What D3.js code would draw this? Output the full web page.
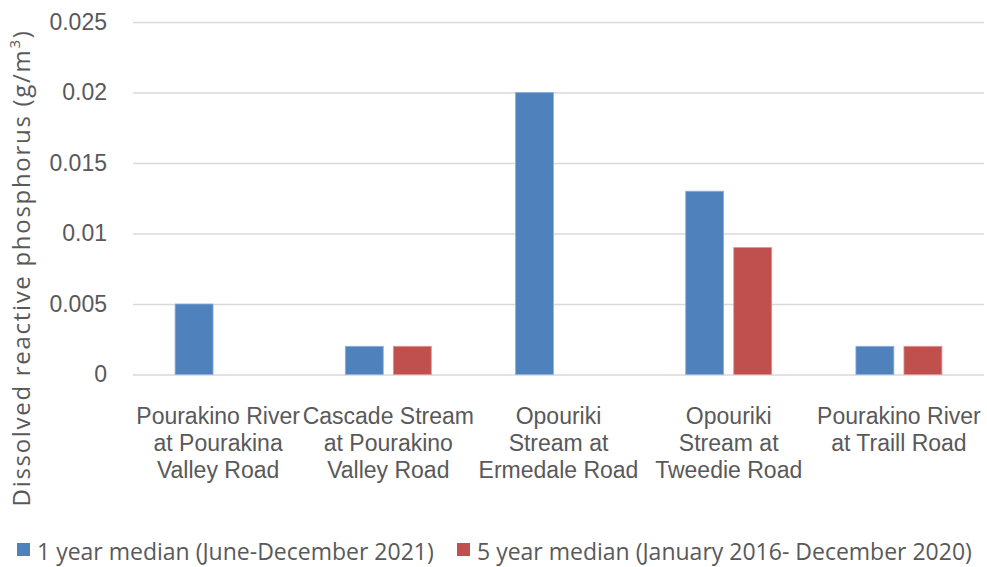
<!DOCTYPE html>
<html>
<head>
<meta charset="utf-8">
<script src="https://cdn.jsdelivr.net/npm/d3@7"></script>
<style>
  body { margin: 0; background: #fff; }
  svg { font-family: "Open Sans", sans-serif; }
  .tick text { fill: #595959; }
</style>
</head>
<body>
<svg class="chart"></svg>
<script>
var sites = [
  "Pourakino River\nat Pourakina\nValley Road",
  "Cascade Stream\nat Pourakino\nValley Road",
  "Opouriki\nStream at\nErmedale Road",
  "Opouriki\nStream at\nTweedie Road",
  "Pourakino River\nat Traill Road"
];
var seriesNames = [
  "1 year median (June-December 2021)",
  "5 year median (January 2016- December 2020)"
];
var oneYear = [0.005, 0.002, 0.02, 0.013, 0.002];
var fiveYear = [null, 0.002, null, 0.009, 0.002];
var yTicks = [0, 0.005, 0.01, 0.015, 0.02, 0.025];
var colors = ["#4F81BD", "#C0504D"];

var width = 987, height = 567;
var margin = {left: 133, right: 3, top: 22, bottom: 192.5};

var chart = d3.select(".chart")
    .attr("width", width)
    .attr("height", height);

var x0 = d3.scaleBand()
    .domain(sites)
    .range([margin.left, width - margin.right]);

var x1 = d3.scaleBand()
    .domain([0, 1])
    .range([x0.bandwidth() / 2 - 43, x0.bandwidth() / 2 + 43])
    .paddingInner(0.21);

var y = d3.scaleLinear()
    .domain([0, 0.025])
    .range([height - margin.bottom, margin.top]);

// gridlines + y labels
var yAxis = chart.append("g")
    .attr("transform", "translate(" + margin.left + ",0)")
    .call(d3.axisLeft(y)
      .tickValues(yTicks)
      .tickFormat(function(d) { return String(+d.toFixed(3)); })
      .tickSize(-(width - margin.left - margin.right))
      .tickPadding(26));
yAxis.select(".domain").remove();
yAxis.selectAll(".tick line")
    .attr("stroke", "#d9d9d9")
    .attr("stroke-width", 1.6);
yAxis.selectAll(".tick text")
    .style("font-size", "23px");

var data = sites.map(function(s, i) {
  return {site: s, values: [oneYear[i], fiveYear[i]]};
});

var group = chart.selectAll("g.site")
    .data(data)
  .enter().append("g")
    .attr("class", "site")
    .attr("transform", function(d) { return "translate(" + x0(d.site) + ",0)"; });

group.selectAll("rect")
    .data(function(d) { return d.values.map(function(v, k) { return {k: k, v: v}; })
      .filter(function(e) { return e.v != null; }); })
  .enter().append("rect")
    .attr("x", function(d) { return x1(d.k); })
    .attr("y", function(d) { return y(d.v); })
    .attr("width", x1.bandwidth())
    .attr("height", function(d) { return y(0) - y(d.v); })
    .attr("fill", function(d) { return colors[d.k]; })
    .attr("stroke", function(d) { return d.k == 0 ? "#8fb0da" : "#dc9492"; })
    .attr("stroke-width", 0.8);

// category labels
var xAxis = chart.append("g")
    .attr("transform", "translate(0," + y(0) + ")")
    .call(d3.axisBottom(x0).tickSize(0).tickFormat(""));
xAxis.select(".domain").remove();
xAxis.selectAll(".tick text").remove();
xAxis.selectAll(".tick").append("text")
    .attr("text-anchor", "middle")
    .attr("fill", "#595959")
    .style("font-size", "23px")
    .selectAll("tspan")
    .data(function(d) { return d.split("\n"); })
  .enter().append("tspan")
    .attr("x", 0)
    .attr("y", function(d, i) { return 49 + i * 27; })
    .text(function(d) { return d; });

// y title
chart.append("text")
    .attr("transform", "translate(30,268) rotate(-90)")
    .attr("text-anchor", "middle")
    .attr("fill", "#595959")
    .style("font-size", "24px")
    .style("letter-spacing", "1.7px")
    .text("Dissolved reactive phosphorus (g/m")
  .append("tspan")
    .attr("baseline-shift", "super")
    .style("font-size", "15px")
    .text("3")
  .select(function() { return this.parentNode; })
  .append("tspan")
    .text(")");

// legend
var legendX = [17, 457];
var legend = chart.selectAll("g.legend")
    .data(seriesNames)
  .enter().append("g")
    .attr("class", "legend")
    .attr("transform", function(d, i) { return "translate(" + legendX[i] + ",543)"; });
legend.append("rect")
    .attr("width", 13)
    .attr("height", 13)
    .attr("fill", function(d, i) { return colors[i]; });
legend.append("text")
    .attr("x", 20)
    .attr("y", 17)
    .attr("fill", "#595959")
    .style("font-size", "23px")
    .text(function(d) { return d; });
</script>
</body>
</html>
